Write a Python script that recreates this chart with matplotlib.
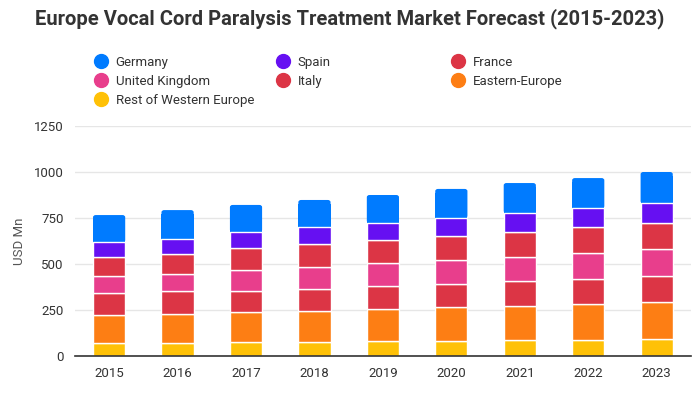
import matplotlib.pyplot as plt
from matplotlib.patches import FancyBboxPatch
import numpy as np

plt.rcParams['font.family'] = ['Roboto', 'DejaVu Sans']

years = ['2015', '2016', '2017', '2018', '2019', '2020', '2021', '2022', '2023']

# stacked from the bottom up
rest_we = [69, 69, 74, 74, 80, 80, 85, 85, 91]
eastern = [152, 158, 163, 171, 174, 186, 185, 196, 201]
italy = [120, 125, 115, 119, 125, 125, 136, 137, 141]
uk = [92, 92, 114, 118, 126, 131, 130, 140, 147]
france = [103, 109, 119, 125, 124, 128, 138, 141, 143]
spain = [82, 84, 89, 92, 94, 100, 103, 104, 107]
germany = [148, 156, 147, 149, 152, 158, 163, 164, 170]

series = [
    ('Rest of Western Europe', rest_we, '#ffc107'),
    ('Eastern-Europe', eastern, '#fd7e14'),
    ('Italy', italy, '#dc3545'),
    ('United Kingdom', uk, '#e83e8c'),
    ('France', france, '#dc3545'),
    ('Spain', spain, '#6610f2'),
    ('Germany', germany, '#007bff'),
]

fig = plt.figure(figsize=(7, 4), dpi=100)
ax = fig.add_axes([0.107, 0.11, 0.88, 0.575])

x = np.arange(len(years))
w = 0.47
bottom = np.zeros(len(years))
handles = {}
for i, (name, vals, col) in enumerate(series):
    vals = np.array(vals)
    top = i == len(series) - 1
    if top:
        # top segment gets rounded upper corners
        ax.bar(x, vals - 20, w, bottom=bottom, color=col, edgecolor='none',
               zorder=2.9)
        for xi, b, h in zip(x, bottom, vals):
            ax.add_patch(FancyBboxPatch((xi - w / 2, b), w, h,
                                        boxstyle='round,pad=0,rounding_size=0.04',
                                        mutation_aspect=12 / 0.04, facecolor=col,
                                        edgecolor='none', zorder=2.8))
    else:
        ax.bar(x, vals, w, bottom=bottom, color=col, edgecolor='white',
               linewidth=1, zorder=3)
    handles[name] = plt.Line2D([], [], marker='o', linestyle='', color=col,
                               markersize=10)
    bottom += vals

ax.set_xlim(-0.5, len(years) - 0.5)
ax.set_ylim(0, 1250)
ax.set_yticks([0, 250, 500, 750, 1000, 1250])
ax.set_xticks(x)
ax.set_xticklabels(years)
ax.grid(axis='y', color='#e6e6e6', linewidth=1, zorder=0)
for s in ['top', 'right', 'left']:
    ax.spines[s].set_visible(False)
ax.spines['bottom'].set_color('#333333')
ax.spines['bottom'].set_linewidth(1.2)
ax.spines['bottom'].set_zorder(4)
ax.tick_params(axis='both', length=0, labelsize=9.5, colors='#333333', pad=8)
ax.set_ylabel('USD Mn', fontsize=9.5, color='#555555', labelpad=6)

fig.suptitle('Europe Vocal Cord Paralysis Treatment Market Forecast (2015-2023)',
             fontsize=14.5, fontweight='bold', color='#333333', y=0.978)

# legend, laid out row by row in three columns
cols = [
    (['Germany', 'United Kingdom', 'Rest of Western Europe'], 0.135),
    (['Spain', 'Italy'], 0.395),
    (['France', 'Eastern-Europe'], 0.645),
]
for names, xpos in cols:
    leg = fig.legend([handles[n] for n in names], names, loc='upper left',
                     bbox_to_anchor=(xpos, 0.86), frameon=False, fontsize=9.5,
                     handlelength=1, handletextpad=0.6, labelspacing=0.45,
                     borderpad=0, borderaxespad=0)
    for t in leg.get_texts():
        t.set_color('#333333')

fig.savefig('out.png', dpi=100)
